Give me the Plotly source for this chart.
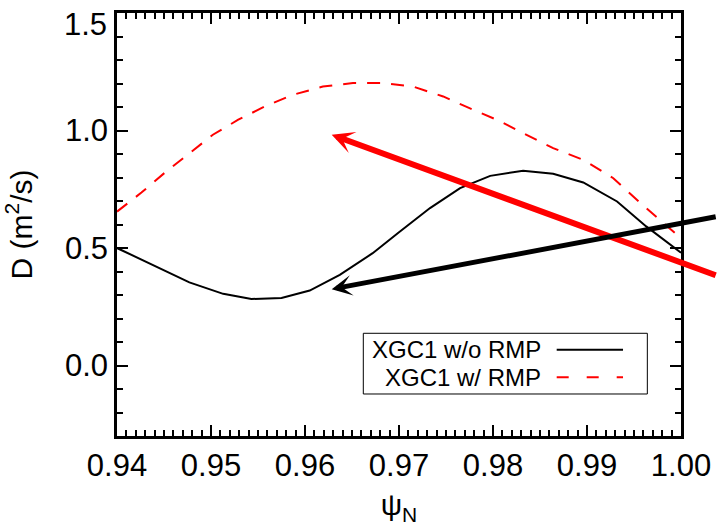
import plotly.graph_objects as go

# --- data ---
psi_no_rmp = [0.9400, 0.9477, 0.9513, 0.9543, 0.9575, 0.9605, 0.9637, 0.9672, 0.9700,
              0.9733, 0.9765, 0.9797, 0.9832, 0.9864, 0.9896, 0.9932, 0.9963, 1.0000]
D_no_rmp = [0.500, 0.354, 0.305, 0.283, 0.287, 0.319, 0.386, 0.478, 0.567,
            0.670, 0.755, 0.807, 0.829, 0.816, 0.779, 0.698, 0.592, 0.480]

psi_rmp = [0.9400, 0.9426, 0.9451, 0.9477, 0.9502, 0.9529, 0.9557, 0.9587, 0.9619, 0.9651,
           0.9683, 0.9715, 0.9747, 0.9775, 0.9804, 0.9832, 0.9864, 0.9896, 0.9928, 0.9957,
           0.9985, 1.0000]
D_rmp = [0.655, 0.736, 0.821, 0.904, 0.982, 1.046, 1.102, 1.152, 1.187, 1.202,
         1.202, 1.187, 1.145, 1.095, 1.046, 0.989, 0.925, 0.875, 0.797, 0.691,
         0.592, 0.542]

series_names = ["XGC1 w/o RMP", "XGC1 w/ RMP"]

# arrows: [tail_x, tail_y, tip_x, tip_y] in data units
red_arrow = [1.00385, 0.382, 0.96284, 0.982]
black_arrow = [1.00385, 0.634, 0.96284, 0.325]

x_range = [0.94, 1.00]
y_range = [-0.3, 1.5002]
y_ticks = [0.0, 0.5, 1.0, 1.5]

FONT = "Liberation Sans, Arial, Helvetica, sans-serif"

fig = go.Figure()
fig.add_trace(go.Scatter(x=psi_no_rmp, y=D_no_rmp, mode="lines", name=series_names[0],
                         line=dict(color="black", width=2), showlegend=False))
fig.add_trace(go.Scatter(x=psi_rmp, y=D_rmp, mode="lines", name=series_names[1],
                         line=dict(color="red", width=2, dash="13px,11px"), showlegend=False))

for arr, col, w, sz in [(red_arrow, "red", 6, 0.62), (black_arrow, "black", 5, 0.68)]:
    fig.add_annotation(x=arr[2], y=arr[3], ax=arr[0], ay=arr[1],
                       xref="x", yref="y", axref="x", ayref="y",
                       text=" ", showarrow=True, arrowhead=3, arrowsize=sz,
                       arrowwidth=w, arrowcolor=col, font=dict(size=1))

# legend (text left of the line sample, as in the reference)
fig.add_shape(type="rect", xref="paper", yref="paper", x0=0.4367, x1=0.9403,
              y0=0.0993, y1=0.2428, line=dict(color="black", width=1), fillcolor="white")
rows_y = [0.2040, 0.1390]
styles = [dict(color="black", width=2), dict(color="red", width=2, dash="12px,18px")]
for name, yy, st in zip(series_names, rows_y, styles):
    fig.add_annotation(xref="paper", yref="paper", x=0.756, y=yy, text=name,
                       showarrow=False, xanchor="right", yanchor="middle", height=19,
                       font=dict(family=FONT, size=24, color="black"))
    fig.add_shape(type="line", xref="paper", yref="paper", x0=0.7796, x1=0.8972,
                  y0=yy, y1=yy, line=st)

# the top y label sits just below its tick in the reference
top_label = f"{y_ticks[-1]:.1f}"
fig.add_annotation(xref="paper", yref="y", x=0, y=y_ticks[-1], text=top_label,
                   showarrow=False, xanchor="right", yanchor="top", xshift=-8, yshift=8,
                   font=dict(family=FONT, size=31, color="black"))

axis_common = dict(showline=True, linecolor="black", linewidth=2.5, mirror="allticks",
                   ticks="inside", ticklen=11, tickwidth=2, tickcolor="black",
                   showgrid=False, zeroline=False,
                   tickfont=dict(family=FONT, size=31, color="black"))

fig.update_xaxes(range=x_range, dtick=0.01, tick0=0.94, tickformat=".2f", automargin=False,
                 minor=dict(dtick=0.001, ticks="inside", ticklen=6, tickwidth=1.5,
                            tickcolor="black", showgrid=False),
                 title=dict(text="ψ<sub>N</sub>", font=dict(family=FONT, size=30, color="black"),
                            standoff=13),
                 **axis_common)
fig.update_yaxes(range=y_range, tickmode="array", tickvals=y_ticks,
                 ticktext=[f"{v:.1f}" if v != y_ticks[-1] else "" for v in y_ticks],
                 automargin=True,
                 minor=dict(dtick=0.1, tick0=0, ticks="inside", ticklen=6, tickwidth=1.5,
                            tickcolor="black", showgrid=False),
                 title=dict(text="D (m<sup>2</sup>/s)", font=dict(family=FONT, size=30, color="black"),
                            standoff=24),
                 **axis_common)

fig.update_layout(width=717, height=529, margin=dict(l=117, r=36, t=13, b=93),
                  paper_bgcolor="white", plot_bgcolor="white",
                  font=dict(family=FONT, color="black"))

fig.write_html("out.html")
